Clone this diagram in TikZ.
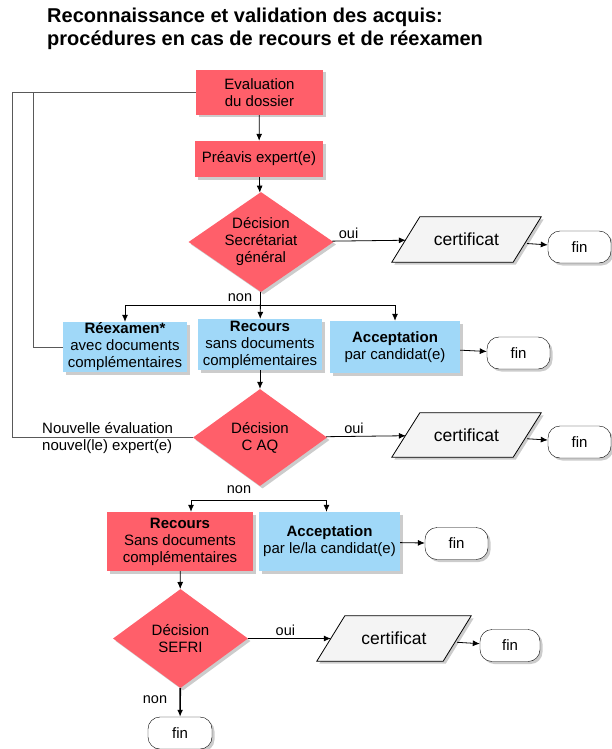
\documentclass[tikz,border=0pt]{standalone}
\usepackage{fontspec}
\setmainfont{Liberation Sans}
\usetikzlibrary{shapes.geometric,shadows,arrows.meta,backgrounds}

\definecolor{boxred}{RGB}{255,95,106}
\definecolor{boxblue}{RGB}{160,216,248}
\definecolor{certgray}{RGB}{244,244,244}

\tikzset{
  txt/.style={font=\fontsize{15}{17}\selectfont, align=center, inner sep=0pt},
  shad/.style={drop shadow={shadow xshift=2.5pt, shadow yshift=-2.5pt, fill=black!40}},
  redbox/.style={txt, shad, fill=boxred, rectangle},
  bluebox/.style={txt, shad, fill=boxblue, rectangle},
  decision/.style={txt, shad, fill=boxred, diamond, aspect=1.4},
  certif/.style={rectangle, minimum height=45pt, font=\fontsize{17.5}{19}\selectfont, inner sep=0pt},
  finbox/.style={shad, draw, fill=white, rectangle, rounded corners=12pt,
    minimum width=63pt, minimum height=32pt, font=\fontsize{15}{17}\selectfont, inner sep=0pt},
  lbl/.style={font=\fontsize{14.5}{16}\selectfont, inner sep=0pt},
  arr/.style={-{Latex[length=7pt,width=6pt]}, line width=0.8pt},
  fb/.style={line width=0.9pt, black!65}
}
% parallelogram round a certificat node
\newcommand{\slantbox}[1]{%
  \begin{pgfonlayer}{background}
    \draw[shad, fill=certgray, line width=0.8pt]
      ([xshift=-14pt]#1.south west) -- ([xshift=14pt]#1.north west) --
      ([xshift=14pt]#1.north east) -- ([xshift=-14pt]#1.south east) -- cycle;
  \end{pgfonlayer}}

\begin{document}
\begin{tikzpicture}[x=1pt,y=-1pt]
  \useasboundingbox (0,0) rectangle (612,749);

  \node[anchor=north west, align=left, inner sep=0pt, font=\bfseries\fontsize{20}{23}\selectfont]
    at (47,8) (T) {Reconnaissance et validation des acquis:\\procédures en cas de recours et de réexamen};

  \node[redbox, minimum width=127pt, minimum height=45pt] at (259.5,92.5) (E) {Evaluation\\du dossier};
  \node[redbox, minimum width=128pt, minimum height=36pt] at (259,159) (P) {Préavis expert(e)};
  \node[decision, minimum width=145pt, minimum height=96pt] at (261,242) (D1) {Décision\\Secrétariat\\général};
  \node[certif, minimum width=121pt] at (466.5,239.5) (C1) {certificat};
  \slantbox{C1}
  \node[finbox] at (579.5,247) (F1) {fin};

  \node[bluebox, minimum width=124pt, minimum height=50pt] at (125,347) (X) {\textbf{Réexamen*}\\avec documents\\complémentaires};
  \node[bluebox, minimum width=124pt, minimum height=51pt] at (260,344.5) (R1) {\textbf{Recours}\\sans documents\\complémentaires};
  \node[bluebox, minimum width=130pt, minimum height=52pt] at (395,347) (A1) {\textbf{Acceptation}\\par candidat(e)};
  \node[finbox] at (518.5,353) (F2) {fin};

  \node[decision, minimum width=134pt, minimum height=97pt] at (260,437.5) (D2) {Décision\\C AQ};
  \node[certif, minimum width=121pt, minimum height=44pt] at (466.5,435) (C2) {certificat};
  \slantbox{C2}
  \node[finbox] at (579.5,442) (F3) {fin};
  \node[txt, align=left, anchor=west] at (42,438) (NE) {Nouvelle évaluation\\nouvel(le) expert(e)};

  \node[redbox, minimum width=146pt, minimum height=59pt] at (180,541.5) (R2) {\textbf{Recours}\\Sans documents\\complémentaires};
  \node[bluebox, minimum width=141pt, minimum height=59pt] at (329.5,541.5) (A2) {\textbf{Acceptation}\\par le/la candidat(e)};
  \node[finbox] at (456.5,543.5) (F4) {fin};

  \node[decision, minimum width=135pt, minimum height=99pt] at (180.5,638.5) (D3) {Décision\\SEFRI};
  \node[certif, minimum width=126pt] at (394,638.5) (C3) {certificat};
  \slantbox{C3}
  \node[finbox, minimum width=60pt] at (510,645.5) (F5) {fin};
  \node[finbox, minimum width=64pt] at (180,733) (F6) {fin};

  % main line
  \draw[arr] (E) -- (P);
  \draw[arr] (P) -- (D1);
  \draw[arr] (D1) -- node[lbl, above=2pt, pos=0.22] {oui} (C1);
  \draw[arr] (C1) -- (F1);
  \draw[arr] (D1) -- (R1);
  \coordinate (B1) at (261,305);
  \draw[arr] (B1) -| (X.north);
  \draw[arr] (B1) -| (A1.north);
  \node[lbl] at (240,298) (N1) {non};
  \draw[arr] (A1) -- (F2);

  % recours
  \draw[arr] (R1) -- (D2);
  \draw[arr] (D2) -- node[lbl, above=2pt, pos=0.35] {oui} (C2);
  \draw[arr] (C2) -- (F3);
  \coordinate (B2) at (260,500);
  \draw[arr] (B2) -| ([xshift=11pt]R2.north);
  \draw[arr] (B2) -| ([xshift=-3pt]A2.north);
  \node[lbl] at (239,490) (N2) {non};
  \draw[arr] (A2) -- (F4);

  % retours
  \coordinate (L1) at (12,92.5);
  \coordinate (L2) at (33,92.5);
  \draw[fb] (E.west) -- (L1) |- (D2.west);
  \draw[fb] (X.west) -| (L2);

  % SEFRI
  \draw[arr] (R2) -- (D3);
  \draw[arr] (D3) -- node[lbl, above=2pt, pos=0.45] {oui} (C3);
  \draw[arr] (C3) -- (F5);
  \draw[arr, line width=1.6pt] (D3) -- (F6);
  \node[lbl] at (155,700) (N3) {non};
\end{tikzpicture}
\end{document}
